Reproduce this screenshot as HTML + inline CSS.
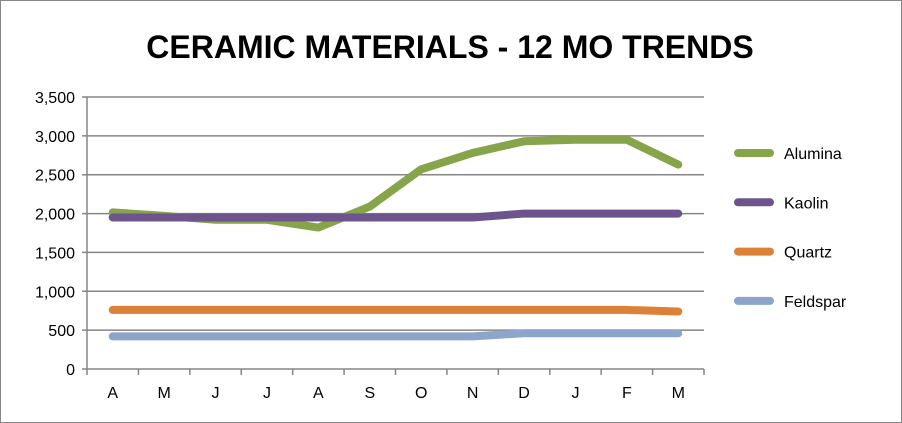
<!DOCTYPE html>
<html><head><meta charset="utf-8"><style>
body{margin:0;background:#fff;}
svg{display:block;font-family:"Liberation Sans",sans-serif;}
</style></head><body>
<svg id="chart" width="902" height="423">
<rect x="0.5" y="0.5" width="901" height="422" fill="#fff" stroke="#868686"/>
<text x="450" y="58" text-anchor="middle" font-size="32" font-weight="bold" fill="#000">CERAMIC MATERIALS - 12 MO TRENDS</text>
<g id="grid"></g><g id="axes"></g><g id="series"></g><g id="legend"></g>
</svg>
<script>
const categories=["A","M","J","J","A","S","O","N","D","J","F","M"];
const alumina=[2015,1970,1920,1920,1820,2090,2570,2780,2930,2950,2950,2630];
const kaolin=[1950,1950,1950,1950,1950,1950,1950,1950,2000,2000,2000,2000];
const quartz=[760,760,760,760,760,760,760,760,760,760,760,740];
const feldspar=[420,420,420,420,420,420,420,420,460,460,460,460];
const yTicks=[0,500,1000,1500,2000,2500,3000,3500];
const seriesNames=["Alumina","Kaolin","Quartz","Feldspar"];
const seriesColors=["#86a44a","#6e548d","#db8138","#8ea5cb"];
const NS="http://www.w3.org/2000/svg";
const X0=87,X1=704,Y0=369,Y1=97,YMAX=3500;
const bw=(X1-X0)/categories.length;
const xs=i=>X0+bw*(i+0.5);
const ys=v=>Y0-(v/YMAX)*(Y0-Y1);
function mk(t,a,p){const e=document.createElementNS(NS,t);for(const k in a)e.setAttribute(k,a[k]);p.appendChild(e);return e;}
const grid=document.getElementById('grid'),axes=document.getElementById('axes'),ser=document.getElementById('series'),leg=document.getElementById('legend');
yTicks.forEach(v=>{
 const l=mk('line',{x1:X0-5,x2:X1,y1:ys(v),y2:ys(v),stroke:'#868686','stroke-width':1.5},grid);
 
 
 const t=mk('text',{x:X0-12,y:ys(v)+6,'text-anchor':'end','font-size':16,fill:'#000'},axes);
 t.textContent=v.toLocaleString('en-US');
 
 
});
const ya=mk('line',{x1:X0,x2:X0,y1:Y1,y2:Y0,stroke:'#868686','stroke-width':1.5},axes);


for(let i=0;i<=categories.length;i++){
 const tk=mk('line',{x1:X0+bw*i,x2:X0+bw*i,y1:Y0,y2:Y0+6,stroke:'#868686','stroke-width':1.5},axes);
 
 
}
categories.forEach((c,i)=>{
 const t=mk('text',{x:xs(i),y:Y0+29,'text-anchor':'middle','font-size':16,fill:'#000'},axes);
 t.textContent=c;
 
 
});
[alumina,kaolin,quartz,feldspar].forEach((d,idx)=>{
 const p=mk('polyline',{points:d.map((v,i)=>xs(i)+','+ys(v)).join(' '),fill:'none',stroke:seriesColors[idx],'stroke-width':8,'stroke-linecap':'round','stroke-linejoin':'round'},ser);
 
 
});
seriesNames.forEach((n,i)=>{
 const y=153+i*49.3;
 const g=mk('g',{},leg);
 
 
 mk('line',{x1:738,x2:770,y1:y,y2:y,stroke:seriesColors[i],'stroke-width':8,'stroke-linecap':'round'},g);
 const t=mk('text',{x:784,y:y+6,'font-size':16,fill:'#000'},g);
 t.textContent=n;
});
</script>
</body></html>
